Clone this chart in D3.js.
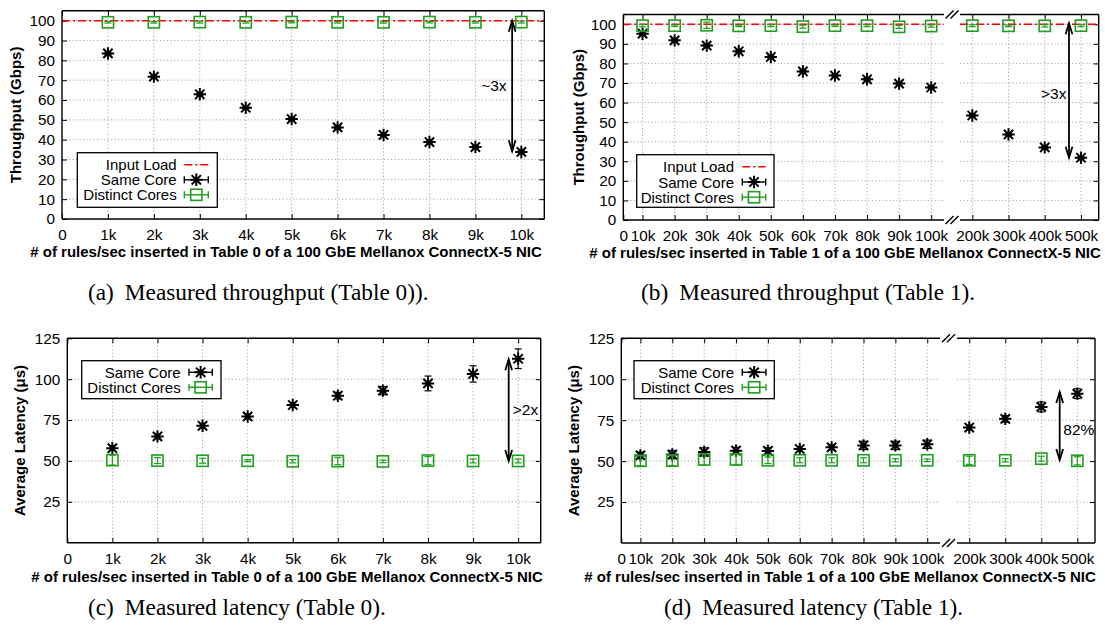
<!DOCTYPE html>
<html>
<head>
<meta charset="utf-8">
<script src="https://cdn.jsdelivr.net/npm/d3@7"></script>
<style>
body { margin: 0; background: #fff; }
svg text { font-family: "Liberation Sans", Arial, sans-serif; }
.grid { stroke: #a8a8a8; stroke-width: 1; stroke-dasharray: 1.2,2.3; fill: none; }
.border { stroke: #000; stroke-width: 1.4; fill: none; }
.caption { font-family: "Liberation Serif", "Times New Roman", serif !important; font-size: 23.3px; }
</style>
</head>
<body>
<svg id="fig" width="1105" height="627"></svg>
<script>
// ---- data (rates in k rules/sec) ----
var t0Rates = [1, 2, 3, 4, 5, 6, 7, 8, 9, 10];
var t1Rates = [10, 20, 30, 40, 50, 60, 70, 80, 90, 100, 200, 300, 400, 500];
var inputLoad = 100;

// throughput (Gbps), table 0
var tputT0Same    = [83.5, 71.8, 62.9, 56.1, 50.4, 46.2, 42.4, 38.8, 36.3, 33.8];
var tputT0SameErr = [0.6, 0.5, 0.6, 0.5, 0.6, 0.6, 0.5, 0.5, 0.6, 0.6];
var tputT0Dist    = [99.2, 99.2, 99.3, 99.2, 99.3, 99.2, 99.2, 99.3, 99.2, 99.3];
var tputT0DistErr = [0.4, 0.4, 0.5, 0.4, 0.4, 0.4, 0.4, 0.4, 0.4, 0.5];

// throughput (Gbps), table 1
var tputT1Same    = [95.2, 91.8, 89.1, 86.2, 83.3, 75.9, 73.8, 71.9, 69.7, 67.7, 53.4, 43.7, 37.1, 31.8];
var tputT1SameErr = [0.8, 0.6, 0.6, 0.6, 0.6, 0.6, 0.6, 0.6, 0.6, 0.6, 0.6, 0.7, 0.6, 0.6];
var tputT1Dist    = [99.3, 99.3, 99.5, 99.2, 99.3, 98.8, 99.3, 99.3, 98.7, 99.1, 99.3, 99.2, 99.2, 99.3];
var tputT1DistErr = [0.6, 0.4, 1.6, 0.4, 0.5, 0.8, 0.4, 0.5, 0.8, 0.6, 0.5, 0.4, 0.6, 0.5];

// latency (us), table 0
var latT0Same    = [57.8, 65.0, 71.5, 77.2, 84.2, 89.9, 93.0, 97.4, 103.2, 112.5];
var latT0SameErr = [1.5, 1.5, 1.5, 1.5, 1.5, 2.0, 2.5, 4.5, 5.0, 6.0];
var latT0Dist    = [50.5, 50.2, 50.1, 50.1, 49.8, 49.9, 49.7, 50.2, 50.0, 50.0];
var latT0DistErr = [3.0, 1.8, 1.5, 0.6, 1.0, 2.2, 0.8, 2.5, 1.2, 1.2];

// latency (us), table 1
var latT1Same    = [53.5, 54.0, 55.6, 56.4, 56.2, 57.4, 58.4, 59.6, 59.6, 60.3, 70.5, 75.8, 83.1, 91.2];
var latT1SameErr = [2.0, 2.5, 2.5, 2.0, 2.0, 1.5, 1.5, 2.5, 2.5, 2.5, 1.5, 2.0, 3.0, 3.0];
var latT1Dist    = [50.2, 50.3, 51.0, 51.0, 50.5, 50.5, 50.5, 50.5, 50.5, 50.5, 50.5, 50.5, 51.5, 50.2];
var latT1DistErr = [3.0, 3.0, 3.5, 3.0, 2.0, 1.5, 1.5, 1.5, 1.0, 0.8, 2.5, 1.0, 1.5, 2.5];

// ticks
var t0Ticks = [0, 1, 2, 3, 4, 5, 6, 7, 8, 9, 10];
var t0TickLabels = ['0', '1k', '2k', '3k', '4k', '5k', '6k', '7k', '8k', '9k', '10k'];
var t1Ticks = [0, 10, 20, 30, 40, 50, 60, 70, 80, 90, 100, 200, 300, 400, 500];
var t1TickLabels = ['0', '10k', '20k', '30k', '40k', '50k', '60k', '70k', '80k', '90k', '100k', '200k', '300k', '400k', '500k'];
var tputTicks = [0, 10, 20, 30, 40, 50, 60, 70, 80, 90, 100];
var latTicks = [25, 50, 75, 100, 125];

var GREEN = '#1f9e1f';
var RED = '#ff0000';

var svg = d3.select('#fig');

function segScales(segs) {
    return segs.map(function(s) {
        return d3.scaleLinear().domain(s.dom).range(s.rng).clamp(true);
    });
}

function pickX(scales, segs, v) {
    for (var i = 0; i < segs.length; i++) {
        if (v <= segs[i].dom[1] || i == segs.length - 1) return scales[i](v);
    }
}

function starPath(r) {
    var d = r * 0.75;
    return 'M' + (-r) + ',0H' + r + 'M0,' + (-r) + 'V' + r +
        'M' + (-d) + ',' + (-d) + 'L' + d + ',' + d + 'M' + (-d) + ',' + d + 'L' + d + ',' + (-d);
}

function drawMarker(g, kind, cx, cy) {
    if (kind == 'star') {
        g.append('path').attr('d', starPath(6.2)).attr('transform', 'translate(' + cx + ',' + cy + ')')
            .attr('stroke', '#000').attr('stroke-width', 2).attr('fill', 'none');
    } else {
        g.append('rect').attr('x', cx - 5.6).attr('y', cy - 5.6).attr('width', 11.2).attr('height', 11.2)
            .attr('stroke', GREEN).attr('stroke-width', 1.6).attr('fill', 'none');
    }
}

function drawArrow(g, x, y1, y2) {
    g.append('line').attr('x1', x).attr('x2', x).attr('y1', y1).attr('y2', y2)
        .attr('stroke', '#000').attr('stroke-width', 1.8);
    [[y1, 1], [y2, -1]].forEach(function(e) {
        g.append('path')
            .attr('d', 'M' + (x - 3.4) + ',' + (e[0] + e[1] * 11) + 'L' + x + ',' + e[0] + 'L' + (x + 3.4) + ',' + (e[0] + e[1] * 11))
            .attr('stroke', '#000').attr('stroke-width', 1.8).attr('fill', 'none');
    });
}

function drawPanel(p) {
    var g = svg.append('g');
    var xs = segScales(p.segs);
    var x = function(v) { return pickX(xs, p.segs, v); };
    var y = d3.scaleLinear().domain(p.yDom).range([p.bottom, p.top]);
    var left = p.segs[0].rng[0], right = p.segs[p.segs.length - 1].rng[1];

    // horizontal grid, per segment
    var hg = [];
    p.yTicks.forEach(function(t) {
        if (t <= p.yDom[0] || t >= p.yDom[1]) return;
        p.segs.forEach(function(s) { hg.push({ t: t, s: s }); });
    });
    g.selectAll('.hgrid').data(hg).join('line').attr('class', 'grid')
        .attr('x1', function(d) { return d.s.rng[0]; }).attr('x2', function(d) { return d.s.rng[1]; })
        .attr('y1', function(d) { return y(d.t); }).attr('y2', function(d) { return y(d.t); });

    // vertical grid
    var vg = p.xTicks.filter(function(t) { var px = x(t); return px > left + 1 && px < right - 1; });
    g.selectAll('.vgrid').data(vg).join('line').attr('class', 'grid')
        .attr('x1', x).attr('x2', x).attr('y1', p.bottom).attr('y2', p.top);

    // axes: ticks inward, mirrored
    var fmt = function(d) { return p.xTickLabels[p.xTicks.indexOf(d)]; };
    p.segs.forEach(function(s, i) {
        var tv = p.xTicks.filter(function(t) { return (i == 0 || t > p.segs[i - 1].dom[1]) && (i == p.segs.length - 1 || t <= s.dom[1]); });
        var ab = g.append('g').attr('transform', 'translate(0,' + p.bottom + ')')
            .call(d3.axisBottom(xs[i]).tickValues(tv).tickSize(-5).tickPadding(8).tickFormat(fmt));
        ab.select('.domain').remove();
        ab.selectAll('text').attr('font-size', 15.3).attr('fill', '#000').attr('dy', 0).attr('y', 21);
        var at = g.append('g').attr('transform', 'translate(0,' + p.top + ')')
            .call(d3.axisTop(xs[i]).tickValues(tv).tickSize(-5).tickFormat(''));
        at.select('.domain').remove();
    });
    var ay = g.append('g').attr('transform', 'translate(' + left + ',0)')
        .call(d3.axisLeft(y).tickValues(p.yTicks).tickSize(-5).tickPadding(7));
    ay.select('.domain').remove();
    ay.selectAll('text').attr('font-size', 15.3).attr('fill', '#000');
    var ar = g.append('g').attr('transform', 'translate(' + right + ',0)')
        .call(d3.axisRight(y).tickValues(p.yTicks).tickSize(-5).tickFormat(''));
    ar.select('.domain').remove();

    // input load reference line
    if (p.inputLoad != null) {
        p.segs.forEach(function(s) {
            g.append('line').attr('x1', s.rng[0]).attr('x2', s.rng[1])
                .attr('y1', y(p.inputLoad)).attr('y2', y(p.inputLoad))
                .attr('stroke', RED).attr('stroke-width', 1.4).attr('stroke-dasharray', '8,3,2,3');
        });
    }

    // series: error bars then markers
    p.series.forEach(function(se) {
        var col = se.kind == 'star' ? '#000' : GREEN;
        se.ys.forEach(function(v, i) {
            var cx = x(se.xs[i]);
            var ylo = y(v - se.err[i]), yhi = y(v + se.err[i]);
            g.append('line').attr('x1', cx).attr('x2', cx).attr('y1', ylo).attr('y2', yhi)
                .attr('stroke', col).attr('stroke-width', 1.2);
            [ylo, yhi].forEach(function(yy) {
                g.append('line').attr('x1', cx - 3.5).attr('x2', cx + 3.5).attr('y1', yy).attr('y2', yy)
                    .attr('stroke', col).attr('stroke-width', 1.2);
            });
            drawMarker(g, se.kind, cx, y(v));
        });
    });

    // border (with break marks)
    p.segs.forEach(function(s) {
        g.append('line').attr('class', 'border').attr('x1', s.rng[0]).attr('x2', s.rng[1]).attr('y1', p.top).attr('y2', p.top);
        g.append('line').attr('class', 'border').attr('x1', s.rng[0]).attr('x2', s.rng[1]).attr('y1', p.bottom).attr('y2', p.bottom);
    });
    g.append('line').attr('class', 'border').attr('x1', left).attr('x2', left).attr('y1', p.top).attr('y2', p.bottom);
    g.append('line').attr('class', 'border').attr('x1', right).attr('x2', right).attr('y1', p.top).attr('y2', p.bottom);
    if (p.segs.length > 1) {
        var bx = (p.segs[0].rng[1] + p.segs[1].rng[0]) / 2;
        [p.top, p.bottom].forEach(function(by) {
            [-2.5, 2.5].forEach(function(o) {
                g.append('line').attr('x1', bx + o - 4).attr('x2', bx + o + 4).attr('y1', by + 4).attr('y2', by - 4)
                    .attr('stroke', '#000').attr('stroke-width', 1.4);
            });
        });
    }

    // axis titles
    g.append('text').attr('x', p.xlab[0]).attr('y', p.xlab[1]).attr('text-anchor', 'middle')
        .attr('font-size', 15).attr('font-weight', 'bold').text(p.xTitle);
    g.append('text').attr('transform', 'translate(' + p.ylabX + ',' + ((p.top + p.bottom) / 2) + ') rotate(-90)')
        .attr('text-anchor', 'middle').attr('font-size', 15).attr('font-weight', 'bold').text(p.yTitle);

    // legend
    var L = p.legend;
    g.append('rect').attr('x', L.box[0]).attr('y', L.box[1]).attr('width', L.box[2] - L.box[0]).attr('height', L.box[3] - L.box[1])
        .attr('fill', '#fff').attr('stroke', '#000').attr('stroke-width', 1.3);
    L.items.forEach(function(it, i) {
        var cy = L.row0 + i * L.rowH;
        g.append('text').attr('x', L.textRight).attr('y', cy + 5.5).attr('text-anchor', 'end')
            .attr('font-size', 15).text(it.name);
        var mid = (L.sample[0] + L.sample[1]) / 2;
        if (it.kind == 'line') {
            g.append('line').attr('x1', L.sample[0]).attr('x2', L.sample[1]).attr('y1', cy).attr('y2', cy)
                .attr('stroke', RED).attr('stroke-width', 1.4).attr('stroke-dasharray', '8,3,2,3');
        } else {
            var col = it.kind == 'star' ? '#000' : GREEN;
            g.append('line').attr('x1', L.sample[0]).attr('x2', L.sample[1]).attr('y1', cy).attr('y2', cy)
                .attr('stroke', col).attr('stroke-width', 1.4);
            L.sample.forEach(function(sx) {
                g.append('line').attr('x1', sx).attr('x2', sx).attr('y1', cy - 3.5).attr('y2', cy + 3.5)
                    .attr('stroke', col).attr('stroke-width', 1.4);
            });
            drawMarker(g, it.kind, mid, cy);
        }
    });

    // annotation
    var A = p.note;
    drawArrow(g, x(A.arrowX), y(A.arrowY[0]), y(A.arrowY[1]));
    g.append('text').attr('x', x(A.textX)).attr('y', y(A.textY)).attr('text-anchor', A.anchor)
        .attr('font-size', 15.5).text(A.text);

    // caption
    var c = g.append('text').attr('class', 'caption').attr('x', p.caption[0]).attr('y', p.caption[1]);
    c.append('tspan').text(p.captionTag);
    c.append('tspan').attr('dx', 11).text(p.captionText);
}

var tputLegend = [{ name: 'Input Load', kind: 'line' }, { name: 'Same Core', kind: 'star' }, { name: 'Distinct Cores', kind: 'square' }];
var latLegend = [{ name: 'Same Core', kind: 'star' }, { name: 'Distinct Cores', kind: 'square' }];
var xTitleT0 = '# of rules/sec inserted in Table 0 of a 100 GbE Mellanox ConnectX-5 NIC';
var xTitleT1 = '# of rules/sec inserted in Table 1 of a 100 GbE Mellanox ConnectX-5 NIC';

drawPanel({
    segs: [{ dom: [0, 10.5], rng: [62, 544.3] }], top: 10.8, bottom: 219, yDom: [0, 105],
    xTicks: t0Ticks, xTickLabels: t0TickLabels, yTicks: tputTicks, inputLoad: inputLoad,
    series: [{ xs: t0Rates, ys: tputT0Same, err: tputT0SameErr, kind: 'star' },
             { xs: t0Rates, ys: tputT0Dist, err: tputT0DistErr, kind: 'square' }],
    xTitle: xTitleT0, xlab: [286, 256.5], yTitle: 'Throughput (Gbps)', ylabX: 20.5,
    legend: { box: [77.3, 152.7, 217.3, 207.3], textRight: 176.7, sample: [184.3, 208.3], row0: 164.8, rowH: 15, items: tputLegend },
    note: { arrowX: 9.8, arrowY: [100, 34.2], textX: 9.68, textY: 64.7, anchor: 'end', text: '~3x' },
    caption: [88, 300], captionTag: '(a)', captionText: 'Measured throughput (Table 0)).'
});

drawPanel({
    segs: [{ dom: [4, 104], rng: [623.3, 944] }, { dom: [166, 549], rng: [960, 1098.7] }], top: 14.5, bottom: 220, yDom: [0, 105],
    xTicks: t1Ticks, xTickLabels: t1TickLabels, yTicks: tputTicks, inputLoad: inputLoad,
    series: [{ xs: t1Rates, ys: tputT1Same, err: tputT1SameErr, kind: 'star' },
             { xs: t1Rates, ys: tputT1Dist, err: tputT1DistErr, kind: 'square' }],
    xTitle: xTitleT1, xlab: [845, 257.5], yTitle: 'Throughput (Gbps)', ylabX: 583.5,
    legend: { box: [636.7, 154.7, 774, 207.3], textRight: 734, sample: [742.3, 765.7], row0: 166.8, rowH: 15.2, items: tputLegend },
    note: { arrowX: 467, arrowY: [100.5, 31.8], textX: 460, textY: 61.7, anchor: 'end', text: '>3x' },
    caption: [641, 300], captionTag: '(b)', captionText: 'Measured throughput (Table 1).'
});

drawPanel({
    segs: [{ dom: [0, 10.5], rng: [67.3, 540.7] }], top: 338.3, bottom: 542.7, yDom: [0, 125],
    xTicks: t0Ticks, xTickLabels: t0TickLabels, yTicks: latTicks, inputLoad: null,
    series: [{ xs: t0Rates, ys: latT0Same, err: latT0SameErr, kind: 'star' },
             { xs: t0Rates, ys: latT0Dist, err: latT0DistErr, kind: 'square' }],
    xTitle: xTitleT0, xlab: [287, 581.7], yTitle: 'Average Latency (\u03bcs)', ylabX: 25,
    legend: { box: [81.7, 360.7, 221, 398.7], textRight: 180.7, sample: [189, 212.3], row0: 372.3, rowH: 15, items: latLegend },
    note: { arrowX: 9.79, arrowY: [112.2, 50], textX: 9.88, textY: 78.1, anchor: 'start', text: '>2x' },
    caption: [88, 615], captionTag: '(c)', captionText: 'Measured latency (Table 0).'
});

drawPanel({
    segs: [{ dom: [4, 104], rng: [621.3, 940] }, { dom: [166, 549], rng: [957, 1095] }], top: 338.3, bottom: 543, yDom: [0, 125],
    xTicks: t1Ticks, xTickLabels: t1TickLabels, yTicks: latTicks, inputLoad: null,
    series: [{ xs: t1Rates, ys: latT1Same, err: latT1SameErr, kind: 'star' },
             { xs: t1Rates, ys: latT1Dist, err: latT1DistErr, kind: 'square' }],
    xTitle: xTitleT1, xlab: [840, 581.7], yTitle: 'Average Latency (\u03bcs)', ylabX: 578.5,
    legend: { box: [634, 360.7, 774.3, 398.7], textRight: 734, sample: [742.3, 766], row0: 372.3, rowH: 15, items: latLegend },
    note: { arrowX: 451, arrowY: [92.2, 50.7], textX: 461, textY: 65.9, anchor: 'start', text: '82%' },
    caption: [664, 615], captionTag: '(d)', captionText: 'Measured latency (Table 1).'
});
</script>
</body>
</html>
